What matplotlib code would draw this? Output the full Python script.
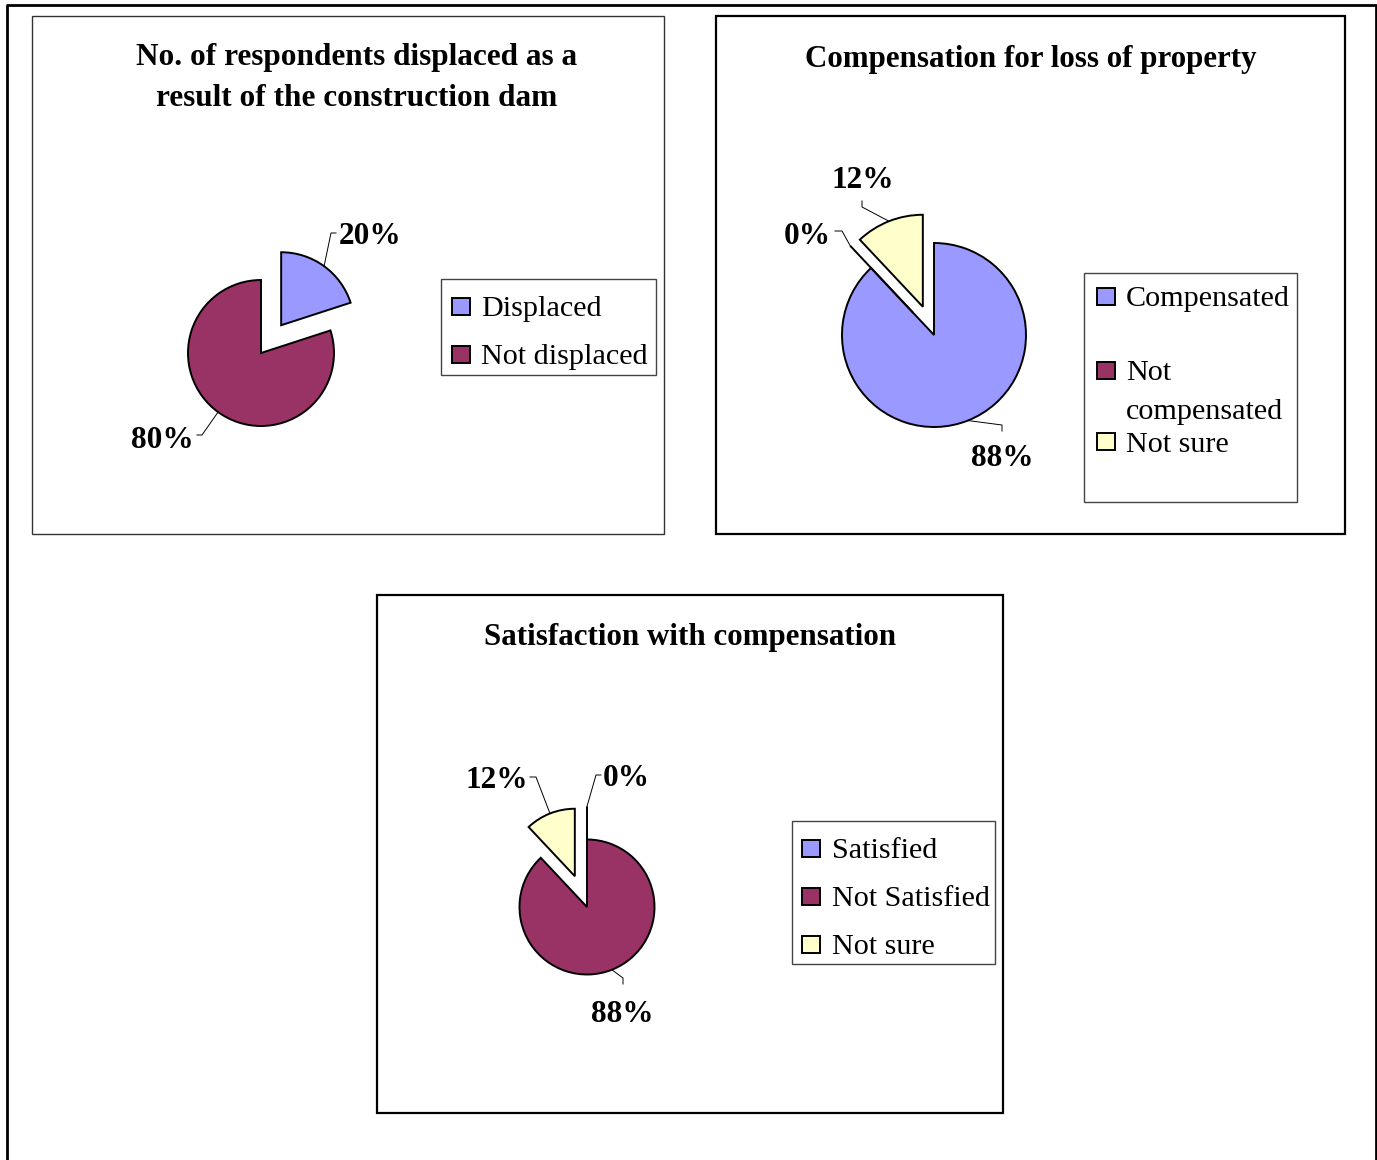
import numpy as np
import matplotlib.pyplot as plt
from matplotlib.patches import Rectangle

plt.rcParams['font.family'] = ['Liberation Serif', 'DejaVu Serif']

W, H = 1377, 1160
TXT_DY = 3  # text sits a touch lower than its bbox centre

# chart data
disp_labels = ["Displaced", "Not displaced"]
disp_values = [20, 80]

comp_labels = ["Compensated", "Not\ncompensated", "Not sure"]
comp_values = [88, 0, 12]

sat_labels = ["Satisfied", "Not Satisfied", "Not sure"]
sat_values = [0, 88, 12]

colors = ["#9999FF", "#993366", "#FFFFCC"]

fig = plt.figure(figsize=(W / 100, H / 100), dpi=100)
ax = fig.add_axes([0, 0, 1, 1])


def Y(y):
    # pixel row (from top) -> data y
    return H - y


def txt(x, y, s, **kw):
    ax.text(x, Y(y + TXT_DY), s, va="center", **kw)


def box(x0, y0, x1, y1, lw=1.4, color="black"):
    ax.add_patch(Rectangle((x0, Y(y1)), x1 - x0, y1 - y0, fill=False,
                           edgecolor=color, linewidth=lw, zorder=1))


def draw_pie(values, center, r, explode, leaders):
    # explode given as fraction of radius; pie wants data units
    expl = [e * r for e in explode]
    wedges, _ = ax.pie(values, colors=colors, startangle=90, counterclock=False,
                       explode=expl, radius=r, center=(center[0], Y(center[1])),
                       normalize=True,
                       wedgeprops=dict(edgecolor="black", linewidth=1.4))
    for w, v, (elbow, hook, tpos, ha) in zip(wedges, values, leaders):
        mid = np.deg2rad((w.theta1 + w.theta2) / 2)
        cx, cy = w.center
        px, py = cx + w.r * np.cos(mid), cy + w.r * np.sin(mid)
        ax.plot([px, elbow[0], hook[0]], [py, Y(elbow[1]), Y(hook[1])],
                color="black", linewidth=0.7, zorder=3)
        txt(tpos[0], tpos[1], f"{v}%", ha=ha, fontsize=22.5,
            fontweight="bold", zorder=4)


def draw_legend(labels, bx, ys, sq_x, txt_x):
    box(*bx, lw=1.0, color="#444444")
    for lab, yy, col in zip(labels, ys, colors):
        ax.add_patch(Rectangle((sq_x, Y(yy) - 8.5), 18, 17, facecolor=col,
                               edgecolor="black", linewidth=1.4, zorder=3))
        for i, line in enumerate(lab.split("\n")):
            txt(txt_x, yy + i * 39, line, ha="left", fontsize=21.7, zorder=3)


# outer frame (top, left, right)
ax.plot([7, 7, 1376, 1376], [0, Y(5), Y(5), 0], color="black", linewidth=2.0)

# panel 1
box(32, 16, 664, 534, lw=1.0, color="#333333")
txt(357, 54, "No. of respondents displaced as a", ha="center",
    fontsize=22.5, fontweight="bold")
txt(357, 96, "result of the construction dam", ha="center",
    fontsize=22.5, fontweight="bold")
draw_pie(disp_values, (261, 353), 73, [0.47, 0],
         [((331, 233), (336, 233), (339, 233), "left"),
          ((202, 435), (197, 435), (194, 438), "right")])
draw_legend(disp_labels, (441, 279, 656, 375), [306.5, 354.5], 452, 481)

# panel 2
box(716, 16, 1345, 534, lw=1.6)
txt(1031, 56, "Compensation for loss of property", ha="center",
    fontsize=22.3, fontweight="bold")
draw_pie(comp_values, (934, 335), 92, [0, 0.33, 0.33],
         [((1002, 425), (1002, 431), (1002, 456), "center"),
          ((842, 231), (835, 231), (831, 233), "right"),
          ((862, 207), (862, 201), (863, 177), "center")])
draw_legend(comp_labels, (1084, 273, 1297, 502), [296.5, 370, 441.5], 1097, 1126)

# panel 3
box(377, 595, 1003, 1113, lw=1.6)
txt(690, 635, "Satisfaction with compensation", ha="center",
    fontsize=22.3, fontweight="bold")
draw_pie(sat_values, (587, 907), 67.5, [0.49, 0, 0.49],
         [((596, 775), (601, 775), (603, 776), "left"),
          ((623, 978), (623, 984), (622, 1012), "center"),
          ((536, 777), (530, 777), (528, 778), "right")])
draw_legend(sat_labels, (792, 821, 995, 964), [848, 896, 944], 802, 832)

ax.set_xlim(0, W)
ax.set_ylim(0, H)
ax.set_aspect("equal", adjustable="box")
ax.axis("off")

fig.savefig("out.png", dpi=100, facecolor="white")
